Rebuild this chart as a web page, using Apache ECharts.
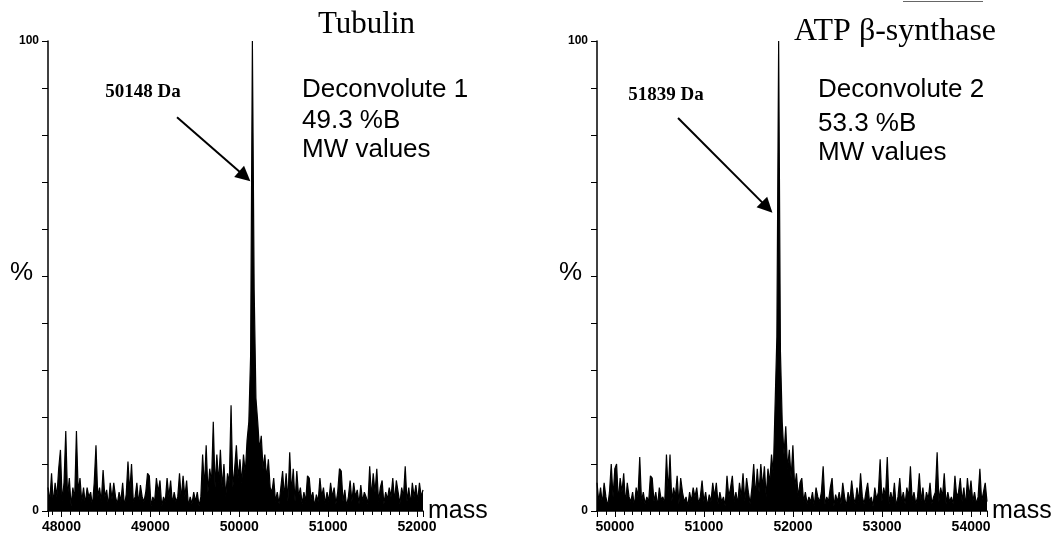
<!DOCTYPE html>
<html><head><meta charset="utf-8">
<script src="https://cdn.jsdelivr.net/npm/echarts@6/dist/echarts.min.js"></script>
<style>html,body{margin:0;padding:0;background:#fff}#c{width:1064px;height:536px}</style>
</head><body><div id="c"></div>
<script>
// ---- data ----
const panelTitles = ['Tubulin', 'ATP \u03b2-synthase'];
const peakLabels = ['50148 Da', '51839 Da'];
const peakMasses = [50148, 51839];
const infoLines = [
  ['Deconvolute 1', '49.3 %B', 'MW values'],
  ['Deconvolute 2', '53.3 %B', 'MW values']
];
const xRanges = [[47848, 52068], [49799, 54179]];
const yTickLabels = {0: '0', 50: '%', 100: '100'};
const xAxisName = 'mass';

const leftMassStart = 47848, leftMassStep = 20;
const leftIntensity = [
  5, 2, 8, 1.5, 6, 3, 9, 13, 2, 6,
  17, 3, 7, 1, 5, 2.5, 17, 4, 7, 2,
  5, 1.5, 5, 3, 4, 1, 6, 14, 3, 5,
  2, 8.7, 3, 4.5, 1, 6, 2.5, 6, 3, 1.5,
  4, 2, 6, 1, 3.5, 10.5, 4, 10, 2, 3,
  6, 1.5, 5.5, 3, 2, 4, 8, 7.5, 1, 3,
  2, 7, 4, 6.5, 1, 3, 2, 7, 3, 6.5,
  1.5, 4, 2, 3, 8, 2.5, 7.5, 3, 6.5, 1,
  3, 1.5, 4, 2, 4, 1, 3, 12, 5, 14,
  4, 9, 6, 19, 5, 12, 6, 13, 5, 10,
  3, 8, 6, 22.5, 5, 9, 14, 7, 11, 6,
  12, 8, 15, 19, 33, 100, 47, 24, 19, 13,
  16, 9, 12, 7, 11, 5, 4, 7, 2, 4,
  1.5, 5, 8.5, 3, 8, 2, 12.5, 4, 9, 2,
  8.5, 3, 5, 1.5, 4, 2, 7.5, 7, 2.5, 4,
  1, 3.5, 2, 7, 3, 5, 1.5, 4, 2, 6,
  3, 5, 1.5, 4, 9, 8.5, 2, 4.5, 1, 3,
  6.5, 2, 6, 3, 4.5, 1.5, 5.5, 2, 4, 3,
  1.5, 9.5, 3, 8, 4, 9, 2, 5, 6.5, 1.5,
  4, 2.5, 5, 3, 7, 2, 6.5, 4, 1.5, 5,
  3, 9.5, 2, 5, 1.5, 6, 3, 5.5, 2, 6,
  3, 4.5
];

const rightMassStart = 49799, rightMassStep = 20;
const rightIntensity = [
  6, 2, 5, 1.5, 6, 3, 1, 4, 10, 3,
  9, 10, 2, 7, 4, 8, 1.5, 6, 3, 2,
  4, 1, 5, 3, 11.5, 2, 4, 1.5, 3, 2,
  7.5, 7, 2, 4, 1, 5, 2.5, 3, 1.5, 12,
  4, 12, 2, 5, 3, 7.5, 1.5, 7, 4, 2,
  3, 1, 4, 2, 5, 3, 5, 1.5, 3, 6.5,
  2, 4, 1, 3.5, 2, 6, 3, 6, 1.5, 4,
  2, 3, 1, 7.5, 3, 5, 7.5, 2, 4, 1.5,
  6, 3, 8, 2, 7, 4, 1.5, 5, 10, 3,
  9, 4, 10, 5, 9.5, 3, 9, 6, 12, 8,
  22.5, 37, 100, 34, 19, 12, 18, 9, 13, 7,
  14, 5, 8, 3, 6, 7, 2, 4, 1.5, 3,
  2, 4, 1, 5, 3, 2, 4, 9.5, 1.5, 3,
  2, 5, 7, 1, 3.5, 2, 4, 1.5, 6, 3,
  1, 4, 2, 6.5, 3, 1.5, 5, 2, 8, 3,
  1.5, 4, 6, 2, 3, 1, 5, 2.5, 4, 11,
  2, 5, 3, 11.5, 1.5, 4, 2, 6, 1, 3,
  7, 2, 4, 1.5, 5, 3, 9.5, 2, 4, 1.5,
  3, 8, 2, 5, 1, 4, 2.5, 6, 1.5, 3,
  4, 12.5, 2, 5, 3, 8, 1.5, 4, 2, 3,
  1.5, 7.5, 3, 4, 7, 2, 5, 1, 7, 3,
  6.5, 2, 4, 1.5, 3, 9, 2, 4, 6, 2
];

// arrow annotations in data coordinates [mass, %]
const arrowStarts = [[49300, 83.8], [50709, 83.6]];
const arrowEnds = [[50062, 71.2], [51710, 64.6]];

// ---- build chart ----
const leftData = leftIntensity.map((v, i) => [leftMassStart + i * leftMassStep, v]);
const rightData = rightIntensity.map((v, i) => [rightMassStart + i * rightMassStep, v]);

const SANS = '"Liberation Sans", Arial, sans-serif';
const SERIF = '"Liberation Serif", "Times New Roman", serif';

function makeX(gi) {
  return {
    type: 'value', gridIndex: gi,
    min: xRanges[gi][0], max: xRanges[gi][1],
    splitNumber: 5,
    name: xAxisName, nameLocation: 'end', nameGap: 5, nameMoveOverlap: false,
    nameTextStyle: {fontFamily: SANS, fontSize: 25, color: '#000', verticalAlign: 'middle', padding: [0, 0, 12, 0]},
    axisLine: {show: true, onZero: false, lineStyle: {color: '#000', width: 1.5}},
    axisTick: {show: true, length: 6, lineStyle: {color: '#000', width: 1}},
    minorTick: {show: true, splitNumber: 10, length: 4, lineStyle: {color: '#000', width: 1}},
    splitLine: {show: false}, minorSplitLine: {show: false},
    axisLabel: {
      color: '#000', fontFamily: SANS, fontSize: 14, fontWeight: 'bold', margin: 9,
      formatter: v => (v % 1000 === 0 ? String(v) : '')
    }
  };
}
function makeY(gi) {
  return {
    type: 'value', gridIndex: gi, min: 0, max: 100, interval: 10,
    axisLine: {show: true, lineStyle: {color: '#000', width: 1.5}},
    axisTick: {show: true, length: 6, lineStyle: {color: '#000', width: 1}},
    splitLine: {show: false},
    axisLabel: {
      color: '#000', fontFamily: SANS, fontSize: 12, fontWeight: 'bold', margin: 9,
      formatter: v => {
        const t = yTickLabels[v];
        if (t === undefined) return '';
        return t === '%' ? '{p|%}' : t;
      },
      rich: {p: {fontFamily: SANS, fontSize: 26, fontWeight: 'normal', color: '#000', padding: [0, 6, 6, 0]}}
    }
  };
}
function makeSeries(gi, data) {
  return {
    type: 'line', xAxisIndex: gi, yAxisIndex: gi, data: data,
    showSymbol: false, symbol: 'none', sampling: null, animation: false,
    lineStyle: {color: '#000', width: 1.2},
    areaStyle: {color: '#000', opacity: 1, origin: 'start'},
    markLine: {
      silent: true, animation: false,
      symbol: ['none', 'triangle'], symbolSize: 15,
      lineStyle: {color: '#000', width: 2, type: 'solid'},
      label: {show: false},
      data: [[{coord: arrowStarts[gi]}, {coord: arrowEnds[gi]}]]
    }
  };
}

const txt = (x, y, text, font, size, weight, align) => ({
  type: 'text', x: x, y: y, silent: true,
  style: {text: text, fontFamily: font, fontSize: size, fontWeight: weight || 'normal', fill: '#000',
          align: align || 'left', verticalAlign: 'middle'}
});

const graphics = [
  txt(318, 25, panelTitles[0], SERIF, 31),
  txt(794, 32, panelTitles[1], SERIF, 32),
  txt(143, 92, peakLabels[0], SERIF, 19, 'bold', 'center'),
  txt(666, 95, peakLabels[1], SERIF, 19, 'bold', 'center'),
  txt(302, 90, infoLines[0][0], SANS, 26),
  txt(302, 121, infoLines[0][1], SANS, 26),
  txt(302, 150, infoLines[0][2], SANS, 26),
  txt(818, 90, infoLines[1][0], SANS, 26),
  txt(818, 124, infoLines[1][1], SANS, 26),
  txt(818, 153, infoLines[1][2], SANS, 26),
  {type: 'line', silent: true, shape: {x1: 903, y1: 1.5, x2: 983, y2: 1.5}, style: {stroke: '#666', lineWidth: 1}}
];

const chart = echarts.init(document.getElementById('c'), null, {renderer: 'canvas'});
chart.setOption({
  backgroundColor: '#fff',
  animation: false,
  grid: [
    {left: 48, top: 41, width: 375, height: 470},
    {left: 597, top: 41, width: 390, height: 470}
  ],
  xAxis: [makeX(0), makeX(1)],
  yAxis: [makeY(0), makeY(1)],
  series: [makeSeries(0, leftData), makeSeries(1, rightData)],
  graphic: graphics
});
</script></body></html>
